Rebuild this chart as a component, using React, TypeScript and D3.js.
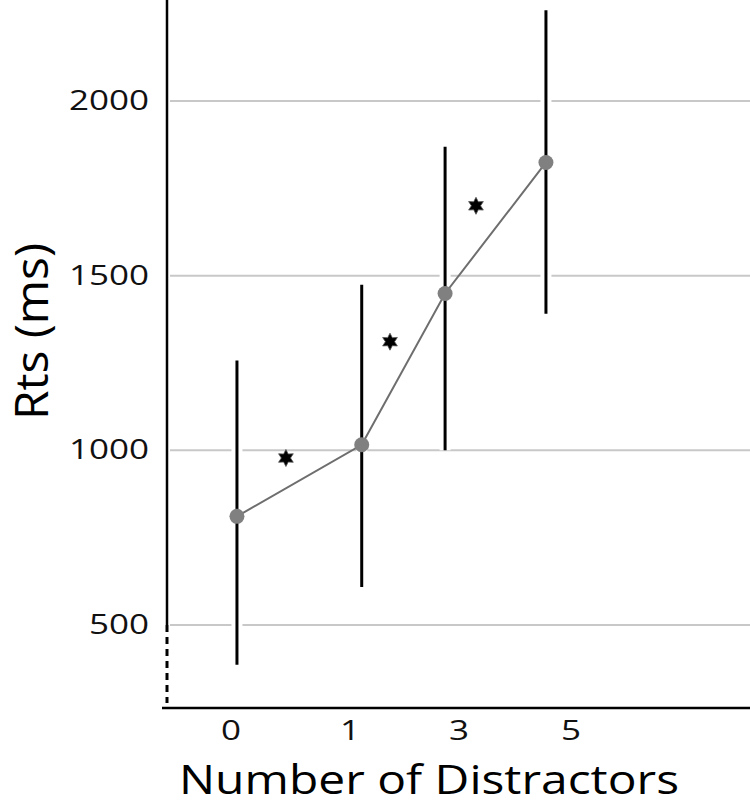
import React from "react";
import * as d3 from "d3";

const categories = ["0", "1", "3", "5"];
const meanRT = [811, 1016, 1449, 1824];
const errLow = [386, 609, 1000, 1391];
const errHigh = [1257, 1474, 1869, 2260];
// positions along the horizontal axis (0-100 units)
const pointX = [12.0, 33.4, 47.7, 65.0];
const labelX = [11.0, 31.4, 50.1, 69.3];
const starX = [20.4, 38.25, 53.0];
const starRT = [978, 1311, 1700];
const yTicks = [500, 1000, 1500, 2000];

const W = 750;
const H = 806;
const FONT = "'Open Sans', 'Noto Sans', sans-serif";

export default function App() {
  const x = d3.scaleLinear().domain([0, 100]).range([167, 750]);
  const y = d3.scaleLinear().domain([500, 2000]).range([625, 101]);
  const axisX = x(0);
  const axisY = 708;

  const linePath = d3
    .line<number>()
    .x((_, i) => x(pointX[i]))
    .y((d) => y(d))(meanRT) as string;

  const starPts: [number, number][] = d3.range(12).map((i) => [
    (i * Math.PI) / 6,
    i % 2 === 0 ? 8.5 : 4.6,
  ]);
  const starPath = d3.lineRadial().curve(d3.curveLinearClosed)(starPts) as string;

  return (
    <svg
      width={W}
      height={H}
      style={{ position: "absolute", left: 0, top: 0, background: "#fff" }}
    >
      <rect x={0} y={0} width={W} height={H} fill="#fff" />
      {/* gridlines */}
      {yTicks.map((t) => (
        <line
          key={"g" + t}
          x1={axisX + 3}
          x2={W}
          y1={y(t)}
          y2={y(t)}
          stroke="#c8c8c8"
          strokeWidth={2}
        />
      ))}
      {/* y tick labels */}
      {yTicks.map((t) => (
        <g key={"yl" + t} transform={`translate(149,${y(t) + 9}) scale(1.25,1)`}>
          <text textAnchor="end" fontFamily={FONT} fontSize={28} fill="#111">
            {t}
          </text>
        </g>
      ))}
      {/* axes */}
      <line x1={axisX} x2={axisX} y1={0} y2={y(500)} stroke="#000" strokeWidth={2.5} />
      <line
        x1={axisX}
        x2={axisX}
        y1={y(500)}
        y2={axisY - 5}
        stroke="#000"
        strokeWidth={3}
        strokeDasharray="7,5"
      />
      <line x1={axisX - 5} x2={W} y1={axisY} y2={axisY} stroke="#000" strokeWidth={2.5} />
      {/* error bar halos */}
      {meanRT.map((_, i) => (
        <line
          key={"h" + i}
          x1={x(pointX[i])}
          x2={x(pointX[i])}
          y1={y(errHigh[i])}
          y2={y(errLow[i])}
          stroke="#fff"
          strokeWidth={11}
        />
      ))}
      {/* error bars */}
      {meanRT.map((_, i) => (
        <line
          key={"e" + i}
          x1={x(pointX[i])}
          x2={x(pointX[i])}
          y1={y(errHigh[i])}
          y2={y(errLow[i])}
          stroke="#000"
          strokeWidth={3}
        />
      ))}
      {/* connecting line */}
      <path d={linePath} fill="none" stroke="#6e6e6e" strokeWidth={2} />
      {/* points */}
      {meanRT.map((v, i) => (
        <circle key={"p" + i} cx={x(pointX[i])} cy={y(v)} r={7.5} fill="#808080" />
      ))}
      {/* significance stars */}
      {starRT.map((v, i) => (
        <path
          key={"s" + i}
          d={starPath}
          transform={`translate(${x(starX[i])},${y(v)})`}
          fill="#000"
          stroke="#555"
          strokeWidth={0.8}
        />
      ))}
      {/* x tick labels */}
      {categories.map((c, i) => (
        <g key={"xl" + c} transform={`translate(${x(labelX[i])},740) scale(1.25,1)`}>
          <text textAnchor="middle" fontFamily={FONT} fontSize={28} fill="#111">
            {c}
          </text>
        </g>
      ))}
      {/* axis titles */}
      <text
        x={179}
        y={794}
        fontFamily={FONT}
        fontSize={41}
        fill="#000"
        textLength={500}
        lengthAdjust="spacingAndGlyphs"
      >
        Number of Distractors
      </text>
      <text
        transform="translate(48,420) rotate(-90)"
        x={0}
        y={0}
        fontFamily={FONT}
        fontSize={45}
        fill="#000"
        textLength={177}
        lengthAdjust="spacingAndGlyphs"
      >
        Rts (ms)
      </text>
    </svg>
  );
}
